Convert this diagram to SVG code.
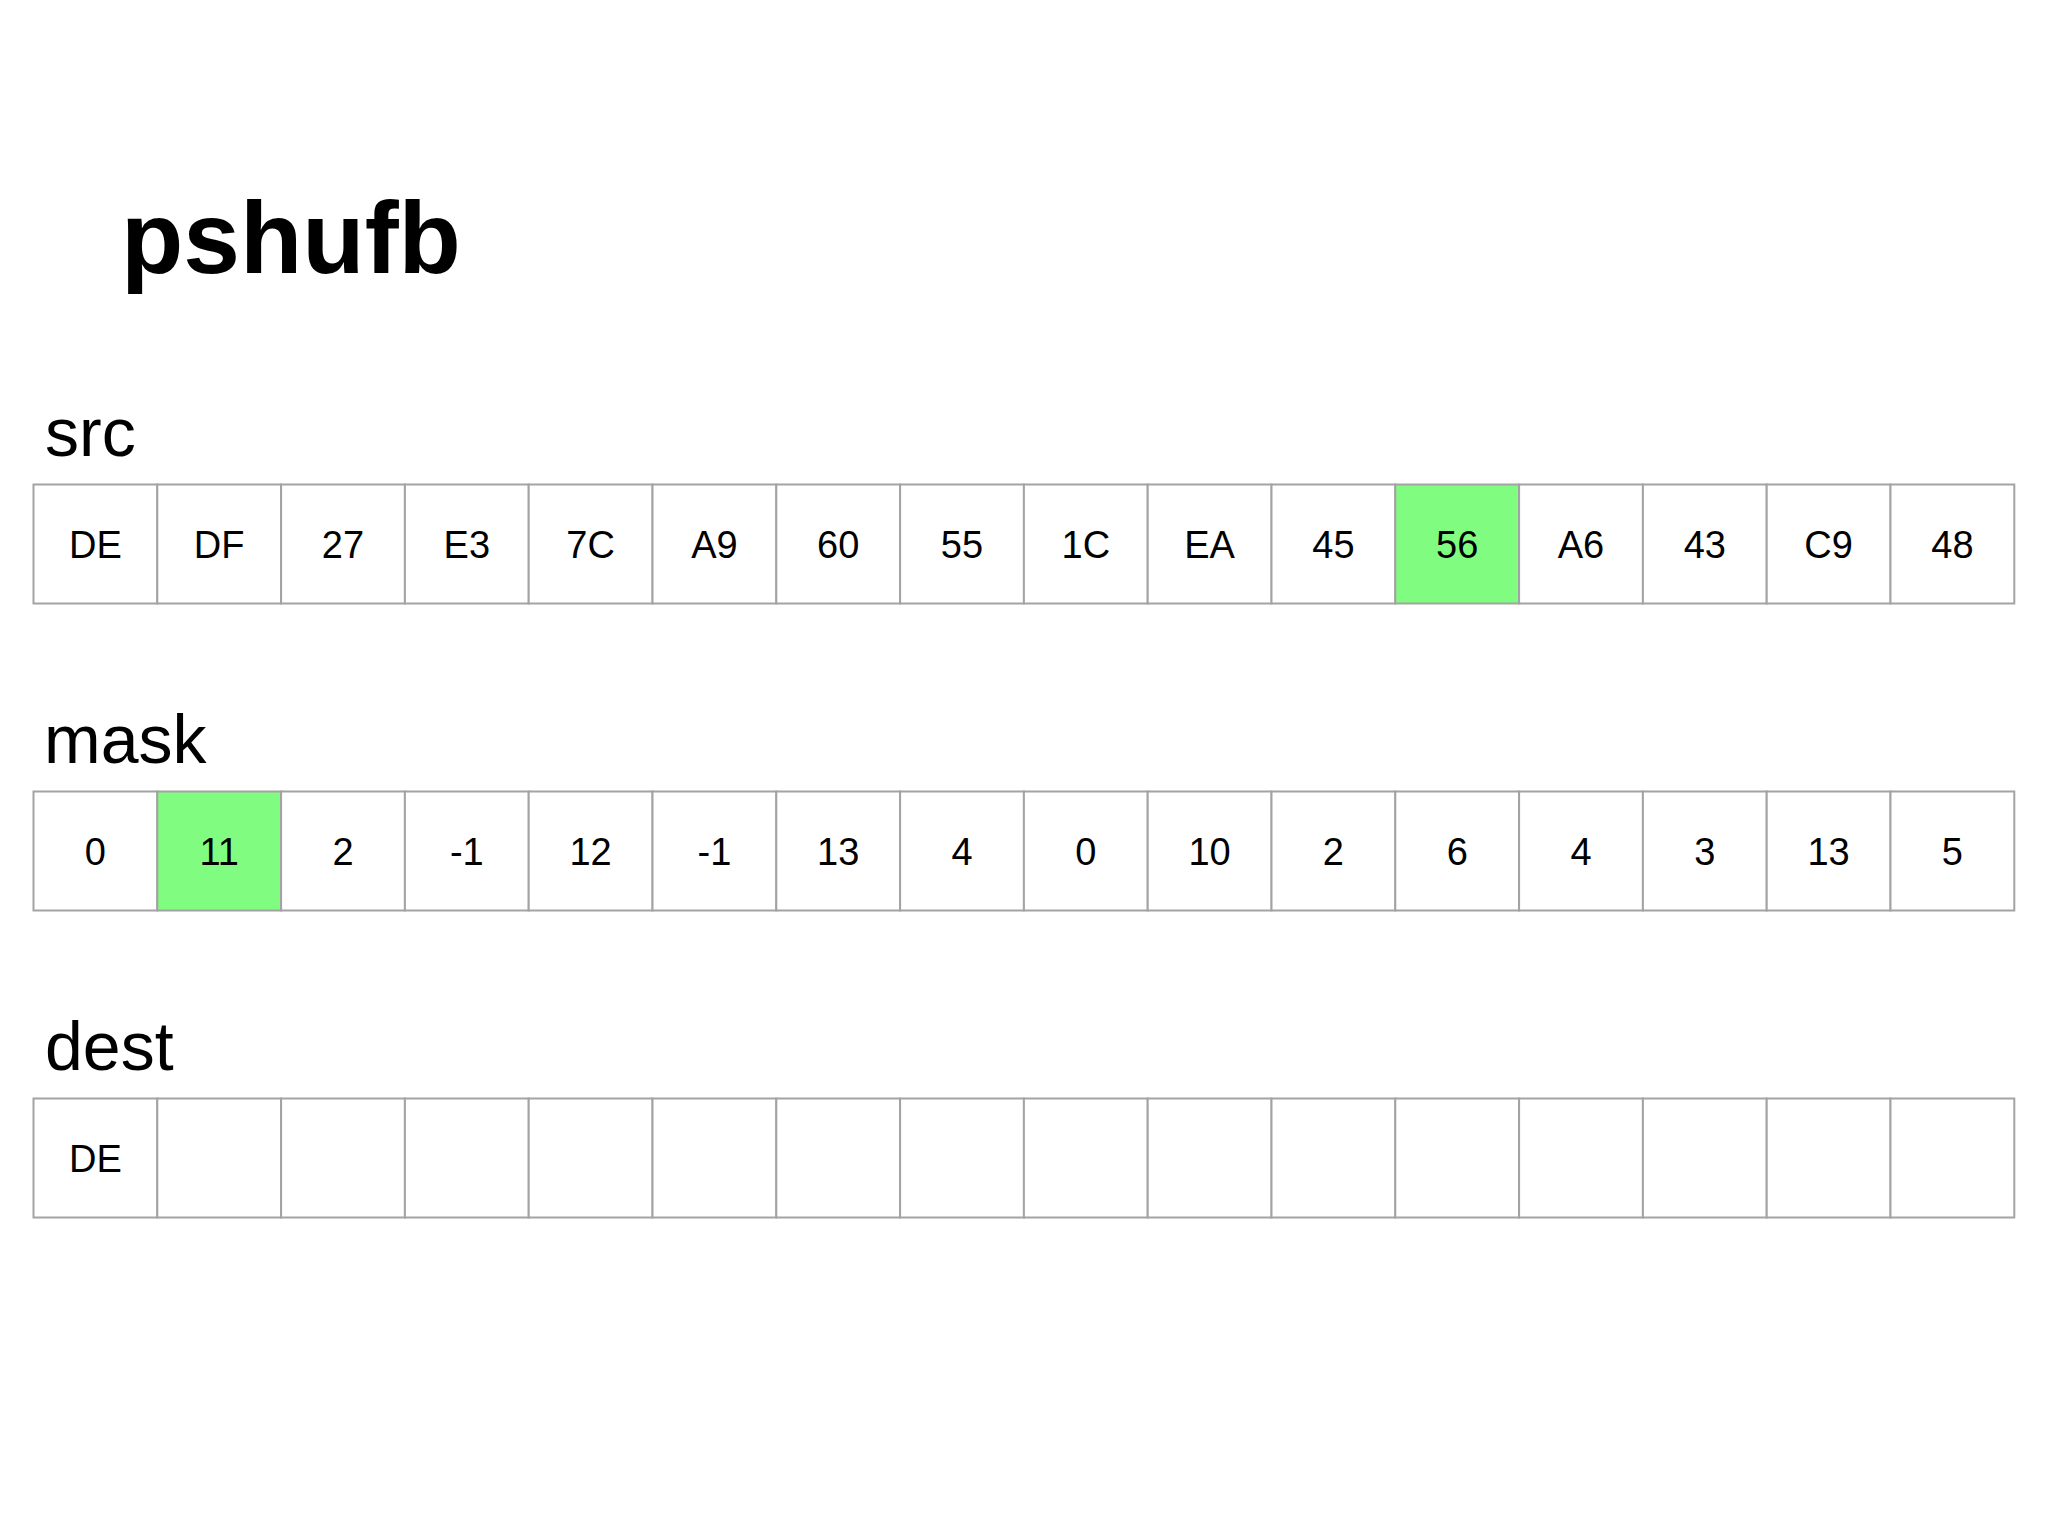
<svg xmlns="http://www.w3.org/2000/svg" width="2048" height="1536" viewBox="0 0 2048 1536">
<style>
.bg{fill:#ffffff}
.title{font-family:"Liberation Sans",Arial,sans-serif;font-weight:bold;font-size:102px;fill:#000}
.lbl{font-family:"Liberation Sans",Arial,sans-serif;font-size:68px;fill:#000}
.cell{fill:#ffffff;stroke:#a3a3a3;stroke-width:2}
.hi{fill:#80fd80}
.v{font-family:"Liberation Sans",Arial,sans-serif;font-size:38px;fill:#000;text-anchor:middle}
</style>
<rect class="bg" x="0" y="0" width="2048" height="1536"/>
<text class="title" x="121" y="273">pshufb</text>
<text class="lbl" x="45" y="456">src</text>
<text class="lbl" x="44" y="763">mask</text>
<text class="lbl" x="45" y="1070">dest</text>
<g id="src">
<g id="src-0"><rect class="cell" x="33.5" y="484.5" width="123.8" height="119"/><text class="v" x="95.4" y="557.6">DE</text></g>
<g id="src-1"><rect class="cell" x="157.3" y="484.5" width="123.8" height="119"/><text class="v" x="219.2" y="557.6">DF</text></g>
<g id="src-2"><rect class="cell" x="281.1" y="484.5" width="123.8" height="119"/><text class="v" x="343" y="557.6">27</text></g>
<g id="src-3"><rect class="cell" x="404.9" y="484.5" width="123.8" height="119"/><text class="v" x="466.8" y="557.6">E3</text></g>
<g id="src-4"><rect class="cell" x="528.7" y="484.5" width="123.8" height="119"/><text class="v" x="590.6" y="557.6">7C</text></g>
<g id="src-5"><rect class="cell" x="652.5" y="484.5" width="123.8" height="119"/><text class="v" x="714.4" y="557.6">A9</text></g>
<g id="src-6"><rect class="cell" x="776.3" y="484.5" width="123.8" height="119"/><text class="v" x="838.2" y="557.6">60</text></g>
<g id="src-7"><rect class="cell" x="900.1" y="484.5" width="123.8" height="119"/><text class="v" x="962" y="557.6">55</text></g>
<g id="src-8"><rect class="cell" x="1023.9" y="484.5" width="123.8" height="119"/><text class="v" x="1085.8" y="557.6">1C</text></g>
<g id="src-9"><rect class="cell" x="1147.7" y="484.5" width="123.8" height="119"/><text class="v" x="1209.6" y="557.6">EA</text></g>
<g id="src-10"><rect class="cell" x="1271.5" y="484.5" width="123.8" height="119"/><text class="v" x="1333.4" y="557.6">45</text></g>
<g id="src-11"><rect class="cell hi" x="1395.3" y="484.5" width="123.8" height="119"/><text class="v" x="1457.2" y="557.6">56</text></g>
<g id="src-12"><rect class="cell" x="1519.1" y="484.5" width="123.8" height="119"/><text class="v" x="1581" y="557.6">A6</text></g>
<g id="src-13"><rect class="cell" x="1642.9" y="484.5" width="123.8" height="119"/><text class="v" x="1704.8" y="557.6">43</text></g>
<g id="src-14"><rect class="cell" x="1766.7" y="484.5" width="123.8" height="119"/><text class="v" x="1828.6" y="557.6">C9</text></g>
<g id="src-15"><rect class="cell" x="1890.5" y="484.5" width="123.8" height="119"/><text class="v" x="1952.4" y="557.6">48</text></g>
</g>
<g id="mask">
<g id="mask-0"><rect class="cell" x="33.5" y="791.5" width="123.8" height="119"/><text class="v" x="95.4" y="864.6">0</text></g>
<g id="mask-1"><rect class="cell hi" x="157.3" y="791.5" width="123.8" height="119"/><text class="v" x="219.2" y="864.6">11</text></g>
<g id="mask-2"><rect class="cell" x="281.1" y="791.5" width="123.8" height="119"/><text class="v" x="343" y="864.6">2</text></g>
<g id="mask-3"><rect class="cell" x="404.9" y="791.5" width="123.8" height="119"/><text class="v" x="466.8" y="864.6">-1</text></g>
<g id="mask-4"><rect class="cell" x="528.7" y="791.5" width="123.8" height="119"/><text class="v" x="590.6" y="864.6">12</text></g>
<g id="mask-5"><rect class="cell" x="652.5" y="791.5" width="123.8" height="119"/><text class="v" x="714.4" y="864.6">-1</text></g>
<g id="mask-6"><rect class="cell" x="776.3" y="791.5" width="123.8" height="119"/><text class="v" x="838.2" y="864.6">13</text></g>
<g id="mask-7"><rect class="cell" x="900.1" y="791.5" width="123.8" height="119"/><text class="v" x="962" y="864.6">4</text></g>
<g id="mask-8"><rect class="cell" x="1023.9" y="791.5" width="123.8" height="119"/><text class="v" x="1085.8" y="864.6">0</text></g>
<g id="mask-9"><rect class="cell" x="1147.7" y="791.5" width="123.8" height="119"/><text class="v" x="1209.6" y="864.6">10</text></g>
<g id="mask-10"><rect class="cell" x="1271.5" y="791.5" width="123.8" height="119"/><text class="v" x="1333.4" y="864.6">2</text></g>
<g id="mask-11"><rect class="cell" x="1395.3" y="791.5" width="123.8" height="119"/><text class="v" x="1457.2" y="864.6">6</text></g>
<g id="mask-12"><rect class="cell" x="1519.1" y="791.5" width="123.8" height="119"/><text class="v" x="1581" y="864.6">4</text></g>
<g id="mask-13"><rect class="cell" x="1642.9" y="791.5" width="123.8" height="119"/><text class="v" x="1704.8" y="864.6">3</text></g>
<g id="mask-14"><rect class="cell" x="1766.7" y="791.5" width="123.8" height="119"/><text class="v" x="1828.6" y="864.6">13</text></g>
<g id="mask-15"><rect class="cell" x="1890.5" y="791.5" width="123.8" height="119"/><text class="v" x="1952.4" y="864.6">5</text></g>
</g>
<g id="dest">
<g id="dest-0"><rect class="cell" x="33.5" y="1098.5" width="123.8" height="119"/><text class="v" x="95.4" y="1171.6">DE</text></g>
<g id="dest-1"><rect class="cell" x="157.3" y="1098.5" width="123.8" height="119"/></g>
<g id="dest-2"><rect class="cell" x="281.1" y="1098.5" width="123.8" height="119"/></g>
<g id="dest-3"><rect class="cell" x="404.9" y="1098.5" width="123.8" height="119"/></g>
<g id="dest-4"><rect class="cell" x="528.7" y="1098.5" width="123.8" height="119"/></g>
<g id="dest-5"><rect class="cell" x="652.5" y="1098.5" width="123.8" height="119"/></g>
<g id="dest-6"><rect class="cell" x="776.3" y="1098.5" width="123.8" height="119"/></g>
<g id="dest-7"><rect class="cell" x="900.1" y="1098.5" width="123.8" height="119"/></g>
<g id="dest-8"><rect class="cell" x="1023.9" y="1098.5" width="123.8" height="119"/></g>
<g id="dest-9"><rect class="cell" x="1147.7" y="1098.5" width="123.8" height="119"/></g>
<g id="dest-10"><rect class="cell" x="1271.5" y="1098.5" width="123.8" height="119"/></g>
<g id="dest-11"><rect class="cell" x="1395.3" y="1098.5" width="123.8" height="119"/></g>
<g id="dest-12"><rect class="cell" x="1519.1" y="1098.5" width="123.8" height="119"/></g>
<g id="dest-13"><rect class="cell" x="1642.9" y="1098.5" width="123.8" height="119"/></g>
<g id="dest-14"><rect class="cell" x="1766.7" y="1098.5" width="123.8" height="119"/></g>
<g id="dest-15"><rect class="cell" x="1890.5" y="1098.5" width="123.8" height="119"/></g>
</g>
<g id="connectors"></g>
</svg>
